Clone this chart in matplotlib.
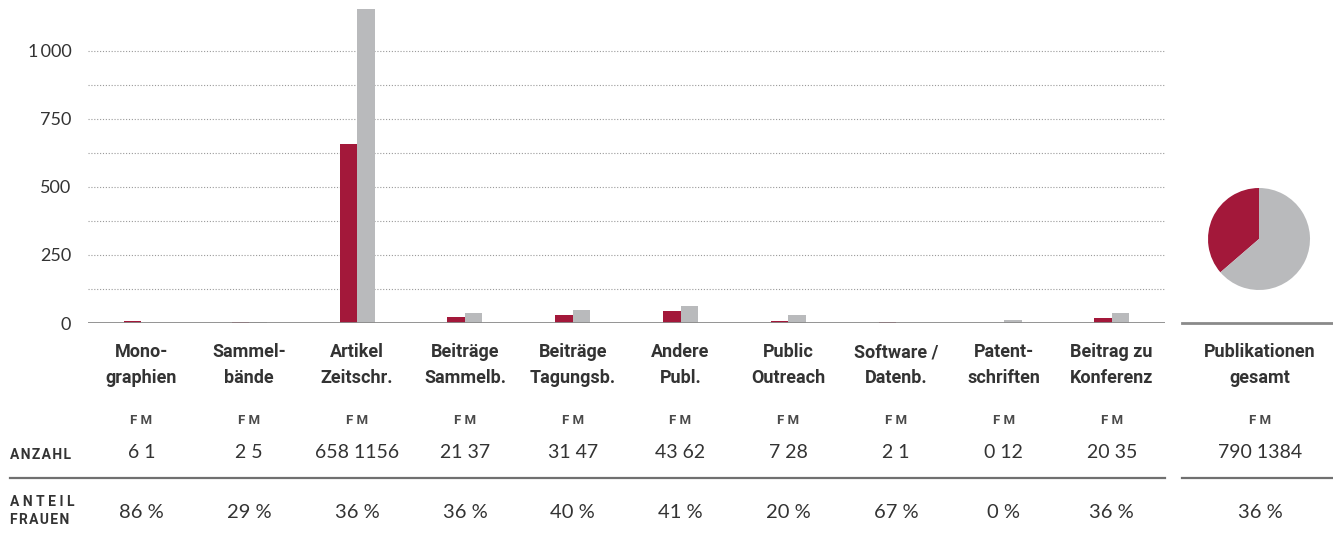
import matplotlib
matplotlib.use('Agg')
import matplotlib.pyplot as plt
import matplotlib.transforms as mtransforms
from matplotlib.ticker import FuncFormatter

plt.rcParams['font.family'] = ['Lato', 'DejaVu Sans']

# Data
categories = ['Mono-\ngraphien', 'Sammel-\nbände', 'Artikel\nZeitschr.', 'Beiträge\nSammelb.',
              'Beiträge\nTagungsb.', 'Andere\nPubl.', 'Public\nOutreach', 'Software /\nDatenb.',
              'Patent-\nschriften', 'Beitrag zu\nKonferenz']
female = [6, 2, 658, 21, 31, 43, 7, 2, 0, 20]
male = [1, 5, 1156, 37, 47, 62, 28, 1, 12, 35]
share_female = [86, 29, 36, 36, 40, 41, 20, 67, 0, 36]
total_label = 'Publikationen\ngesamt'
total_female = 790
total_male = 1384
total_share = 36

RED = '#A3183A'
GREY = '#B9BABC'
TXT = '#333333'
BOLD = ['Roboto', 'DejaVu Sans']

W, H = 1333, 534
fig = plt.figure(figsize=(W / 100, H / 100), dpi=100)

def fx(px):
    return px / W

def fy(py):
    return 1 - py / H

def spaced(s, sep='\u200a'):
    return sep.join(s)

# main bar axes
ax = fig.add_axes([fx(88), fy(323), fx(1165 - 88), (323 - 8) / H])
x = list(range(len(categories)))
bw = 0.163
ax.bar([i - bw / 2 for i in x], female, width=bw, color=RED, zorder=3)
ax.bar([i + bw / 2 for i in x], male, width=bw, color=GREY, zorder=3)
ax.set_xlim(-0.496, 9.494)
ax.set_ylim(0, 1158)
ax.set_yticks([0, 250, 500, 750, 1000])
ax.yaxis.set_major_formatter(FuncFormatter(lambda v, p: f'{int(v):,}'.replace(',', '\u2009')))
for v in range(125, 1001, 125):
    ax.axhline(v, color='#9a9a9a', lw=0.8, ls=(0, (1, 1.6)), zorder=1)
ax.axhline(0, color='#8a8a8a', lw=2, zorder=4)
for s in ax.spines.values():
    s.set_visible(False)
ax.set_xticks([])
ax.tick_params(axis='y', length=0, labelsize=13, labelcolor=TXT, pad=12)

# pie axes
r = 51
pax = fig.add_axes([fx(1259 - r), fy(239 + r), fx(2 * r), 2 * r / H])
pax.pie([total_female, total_male], colors=[RED, GREY], startangle=90, counterclock=True)
pax.set_xlim(-1, 1)
pax.set_ylim(-1, 1)
pax.set_aspect('equal')

# table text
trans = mtransforms.blended_transform_factory(ax.transData, fig.transFigure)
for i, lab in enumerate(categories):
    fig.text(i, fy(365), lab, transform=trans, ha='center', va='center', family=BOLD,
             fontsize=13, fontweight='bold', color=TXT, linespacing=1.55)
    fig.text(i, fy(420), 'F M', transform=trans, ha='center', va='center', family=BOLD,
             fontsize=9.5, fontweight='bold', color='#4a4a4a')
    fig.text(i, fy(453), f'{female[i]} {male[i]}', transform=trans, ha='center', va='center',
             fontsize=14, color=TXT)
    fig.text(i, fy(513), f'{share_female[i]} %', transform=trans, ha='center', va='center',
             fontsize=14.5, color=TXT)

cx = fx(1260)
fig.text(cx, fy(365), total_label, ha='center', va='center', fontsize=13, family=BOLD,
         fontweight='bold', color=TXT, linespacing=1.55)
fig.text(cx, fy(420), 'F M', ha='center', va='center', fontsize=9.5, family=BOLD,
         fontweight='bold', color='#4a4a4a')
fig.text(cx, fy(453), f'{total_female} {total_male}', ha='center', va='center',
         fontsize=14, color=TXT)
fig.text(cx, fy(513), f'{total_share} %', ha='center', va='center', fontsize=14.5, color=TXT)

fig.text(fx(10), fy(455), spaced('ANZAHL'), ha='left', va='center', fontsize=10,
         family=BOLD, fontweight='bold', color=TXT)
fig.text(fx(10), fy(511), spaced('ANTEIL', ' ') + '\n' + spaced('FRAUEN'), ha='left',
         va='center', fontsize=10, family=BOLD, fontweight='bold', color=TXT,
         linespacing=1.35)

# separator lines
fig.add_artist(plt.Line2D([fx(10), fx(1165)], [fy(478), fy(478)], color='#707070', lw=1.6))
fig.add_artist(plt.Line2D([fx(1182), fx(1333)], [fy(478), fy(478)], color='#707070', lw=1.6))
fig.add_artist(plt.Line2D([fx(1182), fx(1333)], [fy(323), fy(323)], color='#8a8a8a', lw=2))

fig.savefig('out.png', dpi=100)
